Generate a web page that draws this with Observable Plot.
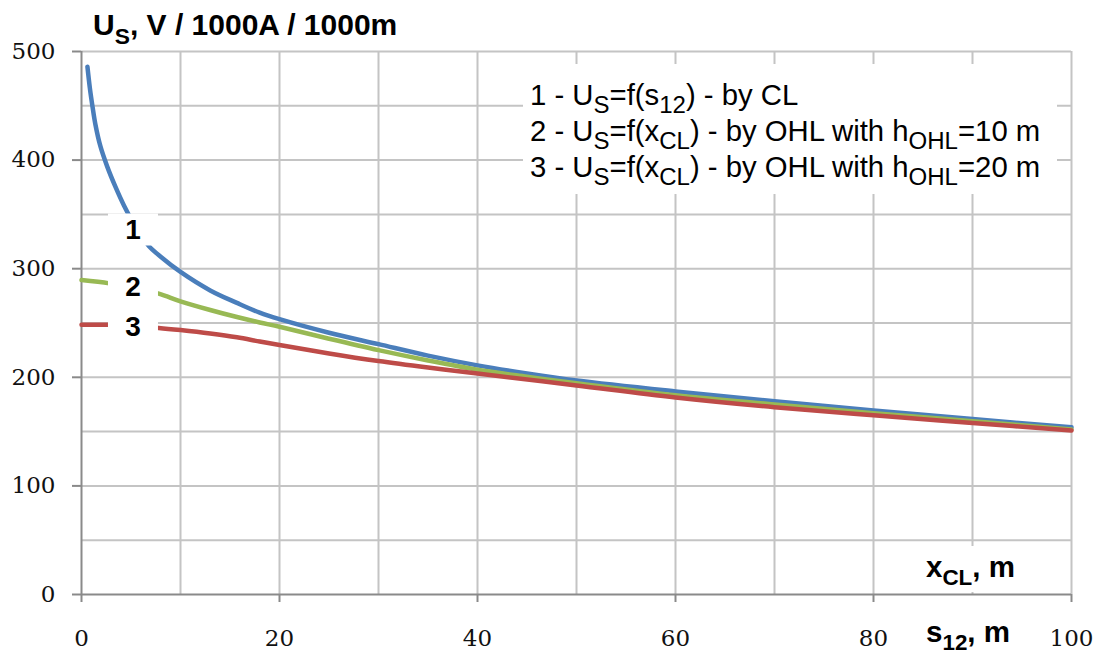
<!DOCTYPE html>
<html>
<head>
<meta charset="utf-8">
<script src="https://cdn.jsdelivr.net/npm/d3@7"></script>
<script src="https://cdn.jsdelivr.net/npm/@observablehq/plot@0.6"></script>
<style>
  html, body { margin: 0; padding: 0; background: #fff; }
  #chart { width: 1100px; height: 655px; }
</style>
</head>
<body>
<div id="chart"></div>
<script>
// ---- data ----
const seriesNames = ["1", "2", "3"];
const seriesColors = ["#4a7ebb", "#98b954", "#be4b48"];

// 1 - U_S = f(s12), by CL
const x1 = [0.6, 0.85, 1.1, 1.4, 1.9, 2.6, 3.4, 4.3, 5.5, 6.8, 8, 10, 13, 15.7, 18, 20, 25, 30, 35, 40, 45, 50, 60, 70, 80, 90, 100];
const u1 = [486, 466, 450, 433, 413, 394, 376, 358, 338, 321, 311, 297, 280, 268.5, 259.5, 253.5, 241, 230.5, 220, 211, 203.5, 197, 187, 178, 169.5, 161.5, 154];
// 2 - U_S = f(xCL), OHL h=10 m
const x2 = [0, 2.8, 5, 7.8, 10, 13, 15.7, 18, 20, 25, 30, 35, 40, 45, 50, 60, 70, 80, 90, 100];
const u2 = [289.5, 286.5, 283, 277, 270, 262, 255.5, 250.5, 246.5, 235.5, 225, 215.5, 207, 200.5, 194.5, 183.5, 175, 167, 159.5, 152];
// 3 - U_S = f(xCL), OHL h=20 m
const x3 = [0, 2.8, 5, 7.8, 10, 13, 15.7, 18, 20, 25, 30, 35, 40, 50, 60, 70, 80, 90, 100];
const u3 = [248.5, 248.3, 247.3, 245.5, 243.5, 240.3, 236.8, 233, 229.8, 222, 215, 209, 203.5, 192.5, 181.5, 172.5, 165, 158, 151];

// curve labels
const labelText = ["1", "2", "3"];
const labelX = [5.2, 5.2, 5.2];
const labelY = [336, 283, 246];

// ticks
const xTicks = [0, 20, 40, 60, 80, 100];
const yTicks = [0, 100, 200, 300, 400, 500];
const xGrid = [10, 20, 30, 40, 50, 60, 70, 80, 90, 100];
const yGrid = [50, 100, 150, 200, 250, 300, 350, 400, 450, 500];

// texts
const titleParts = [["U"], ["S", 1], [", V / 1000A / 1000m"]];
const legendLines = [
  [["1 - U"], ["S", 1], ["=f(s"], ["12", 1], [") - by CL"]],
  [["2 - U"], ["S", 1], ["=f(x"], ["CL", 1], [") - by OHL with h"], ["OHL", 1], ["=10 m"]],
  [["3 - U"], ["S", 1], ["=f(x"], ["CL", 1], [") - by OHL with h"], ["OHL", 1], ["=20 m"]]
];
const xLabelTop = [["x"], ["CL", 1], [", m"]];
const xLabelBottom = [["s"], ["12", 1], [", m"]];

// ---- build table ----
const rows = [];
[[x1, u1], [x2, u2], [x3, u3]].forEach(([xs, us], i) => {
  xs.forEach((x, j) => rows.push({series: seriesNames[i], x, u: us[j]}));
});
const labels = labelText.map((t, i) => ({t, x: labelX[i], y: labelY[i]}));

const boxSymbol = { draw(ctx) { ctx.rect(-25, -16, 50, 32); } };

const gridStyle = {stroke: "#c4c4c4", strokeOpacity: 1, strokeWidth: 2};
const axisColor = "#8a8a8a";

const svg = Plot.plot({
  width: 1100,
  height: 655,
  marginLeft: 81,
  marginRight: 29,
  marginTop: 51,
  marginBottom: 61,
  style: {fontFamily: "DejaVu Serif", background: "white", overflow: "visible"},
  x: {domain: [0, 100]},
  y: {domain: [0, 500]},
  color: {domain: seriesNames, range: seriesColors},
  marks: [
    Plot.gridX(xGrid, gridStyle),
    Plot.gridY(yGrid, gridStyle),
    Plot.ruleX([0], {stroke: axisColor, strokeWidth: 2}),
    Plot.ruleY([0], {stroke: axisColor, strokeWidth: 2}),
    Plot.axisY(yTicks, {tickSize: 9, tickPadding: 17, fontSize: 23, stroke: axisColor, strokeWidth: 2, fill: "#111", label: null}),
    Plot.axisX(xTicks, {tickSize: 8, tickPadding: 27, fontSize: 23, stroke: axisColor, strokeWidth: 2, fill: "#111", label: null}),
    Plot.line(rows, {x: "x", y: "u", z: "series", stroke: "series", strokeWidth: 4.5, curve: "catmull-rom", strokeLinecap: "round"}),
    Plot.dot(labels, {x: "x", y: "y", symbol: boxSymbol, fill: "white", stroke: "none", r: 10}),
    Plot.text(labels, {x: "x", y: "y", text: "t", fontFamily: "Liberation Sans, Arial, sans-serif", fontWeight: "bold", fontSize: 28, fill: "#000"})
  ]
});

document.getElementById("chart").appendChild(svg);

// ---- overlay texts with subscripts ----
const root = d3.select(svg).append("g").attr("text-anchor", "start");
function rich(x, y, parts, size, weight, shiftEm, subScale) {
  const t = root.append("text")
    .attr("x", x).attr("y", y)
    .attr("text-anchor", "start")
    .attr("font-family", "Liberation Sans, Arial, sans-serif")
    .attr("font-size", size)
    .attr("font-weight", weight)
    .attr("fill", "#000");
  let shift = 0;
  for (const [s, sub] of parts) {
    const target = sub ? size * shiftEm : 0;
    t.append("tspan")
      .attr("dy", target - shift)
      .attr("font-size", sub ? size * subScale : size)
      .text(s);
    shift = target;
  }
  return t;
}

// title
rich(93, 35, titleParts, 30, "bold", 0.29, 0.76);

// legend box
root.append("rect").attr("x", 523).attr("y", 64).attr("width", 534).attr("height", 130).attr("fill", "white");
legendLines.forEach((parts, i) => rich(530, 105 + i * 36, parts, 29.3, "normal", 0.29, 0.82));

// x label boxes
root.append("rect").attr("x", 905).attr("y", 546).attr("width", 155).attr("height", 46).attr("fill", "white");
rich(926, 577, xLabelTop, 29.5, "bold", 0.28, 0.76);
rich(926, 642, xLabelBottom, 29.5, "bold", 0.28, 0.76);
</script>
</body>
</html>
